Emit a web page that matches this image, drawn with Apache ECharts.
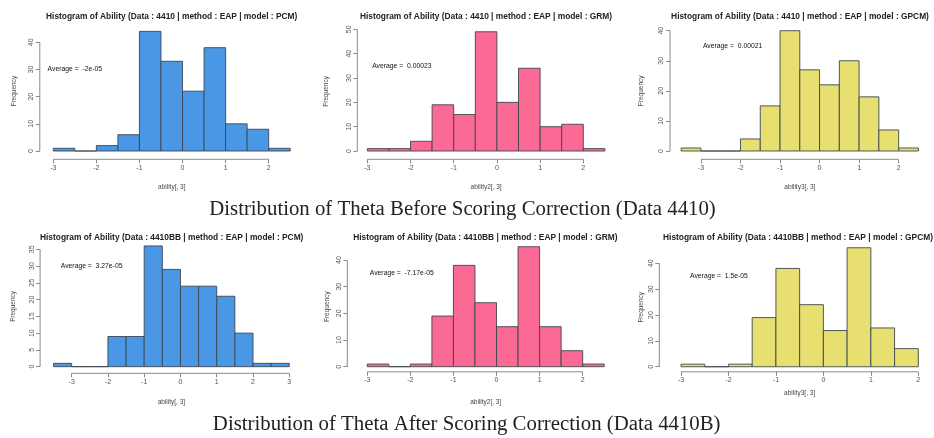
<!DOCTYPE html>
<html><head><meta charset="utf-8">
<script src="https://cdn.jsdelivr.net/npm/echarts@6/dist/echarts.min.js"></script>
<style>html,body{margin:0;padding:0;background:#fff}#c{width:934px;height:438px}</style>
</head><body><div id="c"></div>
<script>
// ---------- data ----------
const binWidth = 0.5;
const pcm4410Start = -3;
const pcm4410 = [1, 0, 2, 6, 44, 33, 22, 38, 10, 8, 1];
const grm4410Start = -3;
const grm4410 = [1, 1, 4, 19, 15, 49, 20, 34, 10, 11, 1];
const gpcm4410Start = -3.5;
const gpcm4410 = [1, 0, 0, 4, 15, 40, 27, 22, 30, 18, 7, 1];
const pcm4410BBStart = -3.5;
const pcm4410BB = [1, 0, 0, 9, 9, 36, 29, 24, 24, 21, 10, 1, 1];
const grm4410BBStart = -3;
const grm4410BB = [1, 0, 1, 19, 38, 24, 15, 45, 15, 6, 1];
const gpcm4410BBStart = -3;
const gpcm4410BB = [1, 0, 1, 19, 38, 24, 14, 46, 15, 7];

const panelTitles = [
  'Histogram of Ability (Data : 4410 | method : EAP | model : PCM)',
  'Histogram of Ability (Data : 4410 | method : EAP | model : GRM)',
  'Histogram of Ability (Data : 4410 | method : EAP | model : GPCM)',
  'Histogram of Ability (Data : 4410BB | method : EAP | model : PCM)',
  'Histogram of Ability (Data : 4410BB | method : EAP | model : GRM)',
  'Histogram of Ability (Data : 4410BB | method : EAP | model : GPCM)'
];
const averageTexts = ['Average =  -2e-05', 'Average =  0.00023', 'Average =  0.00021',
                      'Average =  3.27e-05', 'Average =  -7.17e-05', 'Average =  1.5e-05'];
const averageX = [-2.5, -2.2, -2.2, -2.45, -2.2, -2.2];
const averageY = [30, 35, 35, 30, 35, 35];
const xTickValues = [
  [-3, -2, -1, 0, 1, 2], [-3, -2, -1, 0, 1, 2], [-3, -2, -1, 0, 1, 2],
  [-3, -2, -1, 0, 1, 2, 3], [-3, -2, -1, 0, 1, 2], [-3, -2, -1, 0, 1, 2]
];
const yTickValues = [
  [0, 10, 20, 30, 40], [0, 10, 20, 30, 40, 50], [0, 10, 20, 30, 40],
  [0, 5, 10, 15, 20, 25, 30, 35], [0, 10, 20, 30, 40], [0, 10, 20, 30, 40]
];
const xNames = ['ability[, 3]', 'ability2[, 3]', 'ability3[, 3]', 'ability[, 3]', 'ability2[, 3]', 'ability3[, 3]'];
const yName = 'Frequency';
const captions = [
  'Distribution of Theta Before Scoring Correction (Data 4410)',
  'Distribution of Theta After Scoring Correction (Data 4410B)'
];

const counts = [pcm4410, grm4410, gpcm4410, pcm4410BB, grm4410BB, gpcm4410BB];
const starts = [pcm4410Start, grm4410Start, gpcm4410Start, pcm4410BBStart, grm4410BBStart, gpcm4410BBStart];

// ---------- style / layout ----------
const colors = ['#4A97E5', '#FB6A95', '#E7DF6F', '#4A97E5', '#FB6A95', '#E7DF6F'];
const layout = [
  {l: 43.8, t: 26.6, w: 255.9, h: 129.2, yOff: 4, xOff: 3.5, yNameX: 15, xNameY: 187, titleX: 171.7, titleY: 18},
  {l: 357.8, t: 27.0, w: 256.6, h: 128.8, yOff: 0.5, xOff: 3.5, yNameX: 327, xNameY: 187, titleX: 486, titleY: 18},
  {l: 671.7, t: 25.9, w: 256.2, h: 129.9, yOff: 1.7, xOff: 3.5, yNameX: 642, xNameY: 187, titleX: 800, titleY: 18},
  {l: 44.1, t: 241.1, w: 254.6, h: 130.4, yOff: 4, xOff: 1.8, yNameX: 14, xNameY: 401.7, titleX: 171.7, titleY: 238.3},
  {l: 357.8, t: 241.9, w: 255.9, h: 129.6, yOff: 10.5, xOff: 0.3, yNameX: 328, xNameY: 401.7, titleX: 485.3, titleY: 238.3},
  {l: 671.5, t: 243.0, w: 256.3, h: 128.5, yOff: 12.2, xOff: 0.3, yNameX: 642, xNameY: 392.3, titleX: 798, titleY: 238.3}
];
const axisColor = '#8a8a8a';
const tickTextColor = '#555';
const sans = '"Liberation Sans", Arial, sans-serif';
const serif = '"Liberation Serif", "DejaVu Serif", serif';

const grids = [], xAxes = [], yAxes = [], series = [], titles = [];
counts.forEach((cs, i) => {
  const L = layout[i];
  const start = starts[i];
  const end = start + cs.length * binWidth;
  const pad = (end - start) * 0.04;
  const M = Math.max(...cs);
  grids.push({left: L.l, top: L.t, width: L.w, height: L.h});
  xAxes.push({
    gridIndex: i, type: 'value', position: 'bottom', min: start - pad, max: end + pad, offset: L.xOff,
    axisLine: {show: false, onZero: false}, splitLine: {show: false},
    axisTick: {show: true, length: 4, customValues: xTickValues[i], lineStyle: {color: axisColor, width: 1}},
    axisLabel: {customValues: xTickValues[i], fontSize: 7, color: tickTextColor, margin: 5, fontFamily: sans},
    name: xNames[i], nameLocation: 'middle',
    nameGap: L.xNameY - (L.t + L.h + L.xOff) - 3,
    nameTextStyle: {fontSize: 6.5, color: '#444', fontFamily: sans}
  });
  yAxes.push({
    gridIndex: i, type: 'value', position: 'left', min: -0.04 * M, max: 1.04 * M, offset: L.yOff,
    axisLine: {show: false, onZero: false}, splitLine: {show: false},
    axisTick: {show: true, length: 4, customValues: yTickValues[i], lineStyle: {color: axisColor, width: 1}},
    axisLabel: {customValues: yTickValues[i], fontSize: 7, color: tickTextColor, margin: 5, rotate: 90, fontFamily: sans},
    name: yName, nameLocation: 'middle', nameRotate: 90,
    nameGap: (L.l - L.yOff) - L.yNameX - 3,
    nameTextStyle: {fontSize: 6.5, color: '#444', fontFamily: sans}
  });
  const binData = cs.map((c, k) => [start + k * binWidth, start + (k + 1) * binWidth, c]);
  series.push({
    type: 'custom', xAxisIndex: i, yAxisIndex: i, data: binData, silent: true,
    encode: {x: [0, 1], y: 2},
    renderItem: (params, api) => {
      const p0 = api.coord([api.value(0), 0]);
      const p1 = api.coord([api.value(1), api.value(2)]);
      return {
        type: 'rect',
        shape: {x: p0[0], y: p1[1], width: p1[0] - p0[0], height: p0[1] - p1[1]},
        style: {fill: colors[i], stroke: '#3d4650', lineWidth: 0.9}
      };
    }
  });
  // axis lines (R style: only between the first and last tick) + average annotation
  const xt = xTickValues[i], yt = yTickValues[i];
  series.push({
    type: 'custom', xAxisIndex: i, yAxisIndex: i, silent: true,
    data: [[averageX[i], averageY[i]]],
    renderItem: (params, api) => {
      const cs2 = params.coordSys;
      const yLine = cs2.y + cs2.height + L.xOff;
      const xLine = cs2.x - L.yOff;
      const xa = api.coord([xt[0], 0])[0], xb = api.coord([xt[xt.length - 1], 0])[0];
      const ya = api.coord([0, yt[0]])[1], yb = api.coord([0, yt[yt.length - 1]])[1];
      const pt = api.coord([api.value(0), api.value(1)]);
      return {
        type: 'group', children: [
          {type: 'line', shape: {x1: xa, y1: yLine, x2: xb, y2: yLine}, style: {stroke: axisColor, lineWidth: 1}},
          {type: 'line', shape: {x1: xLine, y1: ya, x2: xLine, y2: yb}, style: {stroke: axisColor, lineWidth: 1}},
          {type: 'text', x: pt[0], y: pt[1], style: {text: averageTexts[i], fill: '#111', fontSize: 6.8,
            fontFamily: sans, align: 'center', verticalAlign: 'middle'}}
        ]
      };
    }
  });
  titles.push({
    text: panelTitles[i], left: L.titleX, top: L.titleY - 5, textAlign: 'center', padding: 0,
    textStyle: {fontSize: 8.4, fontWeight: 'bold', color: '#222', fontFamily: sans}
  });
});
titles.push({text: captions[0], left: 462.5, top: 199, textAlign: 'center', padding: 0,
  textStyle: {fontSize: 20.8, fontWeight: 'normal', color: '#222', fontFamily: serif}});
titles.push({text: captions[1], left: 466.7, top: 414, textAlign: 'center', padding: 0,
  textStyle: {fontSize: 20.8, fontWeight: 'normal', color: '#222', fontFamily: serif}});

const chart = echarts.init(document.getElementById('c'), null, {renderer: 'canvas'});
chart.setOption({
  animation: false, backgroundColor: '#fff',
  title: titles, grid: grids, xAxis: xAxes, yAxis: yAxes, series: series
});
</script></body></html>
